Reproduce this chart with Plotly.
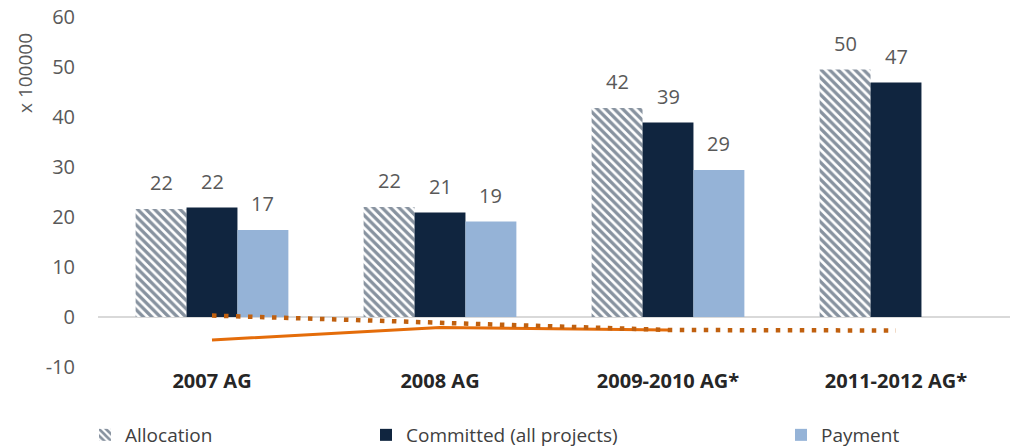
import plotly.graph_objects as go

categories = ["2007 AG", "2008 AG", "2009-2010 AG*", "2011-2012 AG*"]
allocation = [21.6, 22.0, 41.8, 49.5]
committed = [21.9, 20.9, 38.9, 46.9]
payment = [17.4, 19.1, 29.4, None]
solid_line = [-4.6, -2.1, -2.6, None]
dotted_line = [0.3, -1.1, -2.6, -2.7]
y_tick_values = [-10, 0, 10, 20, 30, 40, 50, 60]
y_tick_labels = ["-10", "0", "10", "20", "30", "40", "50", "60"]

NAVY = "#10253F"
LIGHT = "#95B3D7"
GREY = "#595959"
FONT = "Open Sans"

W, H = 1010, 448
ML, MR, MT, MB = 98, 0, 17, 81
plot_w = W - ML - MR
bargap = 0.33
bar_px = plot_w / len(categories) * (1 - bargap) / 3

fig = go.Figure()
fig.add_trace(go.Bar(
    x=categories, y=allocation, name="Allocation",
    marker=dict(color="white", line=dict(width=0),
                pattern=dict(shape="\\", fgcolor=NAVY, bgcolor="white", size=6, solidity=0.55)),
    legend="legend"))
fig.add_trace(go.Bar(x=categories, y=committed, name="Committed (all projects)",
                     marker=dict(color=NAVY, line=dict(width=0)), legend="legend2"))
fig.add_trace(go.Bar(x=categories, y=payment, name="Payment",
                     marker=dict(color=LIGHT, line=dict(width=0)), legend="legend3"))
fig.add_trace(go.Scatter(x=categories, y=solid_line, mode="lines", showlegend=False,
                         line=dict(color="#E46C0A", width=3)))
fig.add_trace(go.Scatter(x=categories, y=dotted_line, mode="lines", showlegend=False,
                         line=dict(color="#C0600F", width=4.5, dash="4.5px,7.5px")))

annotations = []
for k, series in enumerate([allocation, committed, payment]):
    for cat, v in zip(categories, series):
        if v is None:
            continue
        annotations.append(dict(
            x=cat, y=v, xref="x", yref="y", text=f"{v:.0f}", showarrow=False,
            xshift=(k - 1) * bar_px, yshift=11, yanchor="bottom",
            font=dict(family=FONT, size=20, color=GREY)))

annotations.append(dict(
    text="x 100000", textangle=-90, showarrow=False, xref="paper", yref="paper",
    x=0, xshift=-73, y=(H - MB - 73) / (H - MT - MB), xanchor="center", yanchor="middle",
    font=dict(family=FONT, size=19, color=GREY)))

legend_common = dict(orientation="h", xref="container", yref="container",
                     yanchor="middle", y=1 - 435 / H, xanchor="left",
                     font=dict(family=FONT, size=19, color="#404040"),
                     bgcolor="rgba(0,0,0,0)", itemwidth=30, tracegroupgap=0)

fig.update_layout(
    width=W, height=H,
    margin=dict(l=ML, r=MR, t=MT, b=MB),
    paper_bgcolor="white", plot_bgcolor="white",
    barmode="group", bargap=bargap, bargroupgap=0,
    showlegend=True,
    legend=dict(x=(125 - 40) / W, **legend_common),
    legend2=dict(x=(406 - 40) / W, **legend_common),
    legend3=dict(x=(821 - 40) / W, **legend_common),
    annotations=annotations,
    xaxis=dict(showgrid=False, showline=False, ticks="",
               tickfont=dict(family=FONT, size=20, color="#262626", weight="bold")),
    yaxis=dict(range=[-10, 60], tickvals=y_tick_values, ticktext=y_tick_labels, showgrid=False,
               zeroline=True, zerolinecolor="#D9D9D9", zerolinewidth=1.5,
               showline=False, ticks="", ticklabelstandoff=22,
               tickfont=dict(family=FONT, size=20, color=GREY)),
)

fig.write_html("out.html", config={"displayModeBar": False},
               post_script="document.body.style.margin='0';document.body.style.overflow='hidden';")
